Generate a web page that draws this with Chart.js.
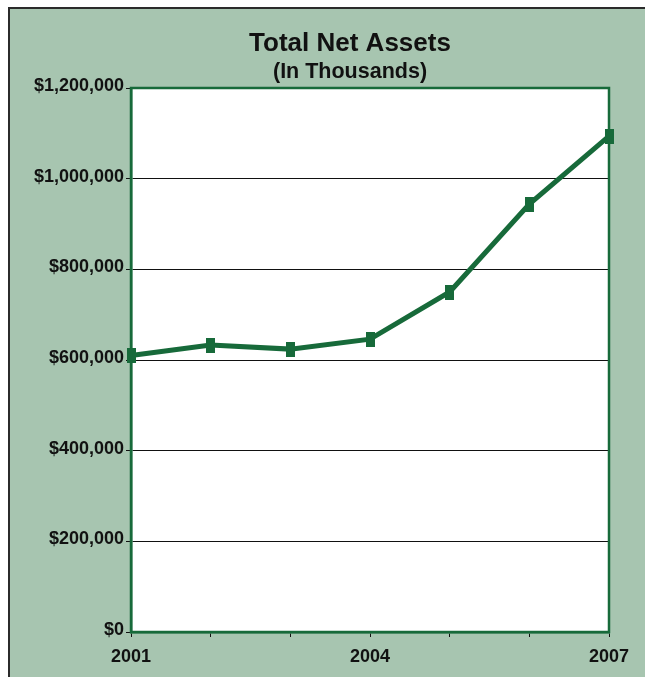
<!DOCTYPE html>
<html>
<head>
<meta charset="utf-8">
<script src="https://cdn.jsdelivr.net/npm/chart.js@4/dist/chart.umd.min.js"></script>
<style>
  html, body { margin: 0; padding: 0; background: #ffffff; }
  #wrap { width: 645px; height: 677px; }
</style>
</head>
<body>
<div id="wrap"><canvas id="c" width="645" height="677"></canvas></div>
<script>
const years = ['2001', '2002', '2003', '2004', '2005', '2006', '2007'];
const shownYearLabels = ['2001', '2004', '2007'];
const totalNetAssets = [610000, 633000, 624000, 646000, 750000, 944000, 1094000];
const yTickValues = [0, 200000, 400000, 600000, 800000, 1000000, 1200000];

const GREEN = '#176a3a';
const SAGE = '#a7c5b0';

const marker = document.createElement('canvas');
marker.width = 9; marker.height = 15;
(function () { const m = marker.getContext('2d'); m.fillStyle = GREEN; m.fillRect(0, 0, 9, 15); })();

const framePlugin = {
  id: 'frame',
  afterLayout(chart) {
    chart.boxes.forEach(b => {
      if (b.options && b.options.text !== undefined && b.position === 'top') {
        b.left = 91;
      }
    });
  },
  beforeDraw(chart) {
    const ctx = chart.ctx;
    ctx.save();
    ctx.fillStyle = '#ffffff';
    ctx.fillRect(0, 0, chart.width, chart.height);
    ctx.fillStyle = SAGE;
    ctx.fillRect(8, 7, chart.width - 8, chart.height - 7);
    ctx.fillStyle = '#2b2b2b';
    ctx.fillRect(8, 7, chart.width - 8, 2);
    ctx.fillRect(8, 7, 2, chart.height - 7);
    const a = chart.chartArea;
    ctx.fillStyle = '#ffffff';
    ctx.fillRect(a.left, a.top, a.right - a.left, a.bottom - a.top);
    ctx.restore();
  },
  beforeDatasetsDraw(chart) {
    const ctx = chart.ctx;
    const a = chart.chartArea;
    ctx.save();
    ctx.strokeStyle = GREEN;
    ctx.lineWidth = 2.5;
    ctx.strokeRect(a.left, a.top, a.right - a.left, a.bottom - a.top);
    ctx.restore();
  }
};

new Chart(document.getElementById('c'), {
  type: 'line',
  data: {
    labels: years,
    datasets: [{
      data: totalNetAssets,
      borderColor: GREEN,
      backgroundColor: GREEN,
      borderWidth: 5,
      tension: 0,
      pointStyle: marker,
      pointRadius: 5,
      pointHoverRadius: 5
    }]
  },
  options: {
    responsive: false,
    animation: false,
    events: [],
    layout: { padding: { left: 0, right: 36, top: 0, bottom: 0 } },
    plugins: {
      legend: { display: false },
      tooltip: { enabled: false },
      title: {
        display: true,
        text: 'Total Net Assets',
        color: '#111111',
        font: { family: 'Liberation Sans, Arial, sans-serif', size: 26, weight: 'bold', lineHeight: 1.2 },
        padding: { top: 28, bottom: 0 }
      },
      subtitle: {
        display: true,
        text: '(In Thousands)',
        color: '#111111',
        font: { family: 'Liberation Sans, Arial, sans-serif', size: 21.5, weight: 'bold', lineHeight: 1.2 },
        padding: { top: 0, bottom: 3 }
      }
    },
    scales: {
      x: {
        type: 'category',
        offset: false,
        grid: { drawOnChartArea: false, drawTicks: true, tickLength: 5, tickColor: '#111111', tickWidth: 1 },
        border: { display: true, color: GREEN, width: 2.5 },
        ticks: {
          autoSkip: false,
          maxRotation: 0,
          padding: 9,
          color: '#111111',
          font: { family: 'Liberation Sans, Arial, sans-serif', size: 18, weight: 'bold' },
          callback: function (value, index) {
            const lab = years[index];
            return shownYearLabels.includes(lab) ? lab : '';
          }
        },
        afterFit(scale) { scale.height = 45; scale.paddingLeft = 0; scale.paddingRight = 0; }
      },
      y: {
        min: 0,
        max: 1200000,
        afterBuildTicks(scale) { scale.ticks = yTickValues.map(v => ({ value: v })); },
        grid: { color: '#111111', lineWidth: 1, drawTicks: true, tickLength: 5, tickColor: '#111111' },
        border: { display: true, color: GREEN, width: 2.5 },
        ticks: {
          padding: 2,
          labelOffset: -2,
          color: '#111111',
          font: { family: 'Liberation Sans, Arial, sans-serif', size: 18, weight: 'bold' },
          callback: v => '$' + Number(v).toLocaleString('en-US')
        },
        afterFit(scale) { scale.width = 131; scale.paddingTop = 0; scale.paddingBottom = 0; }
      }
    }
  },
  plugins: [framePlugin]
});
</script>
</body>
</html>
